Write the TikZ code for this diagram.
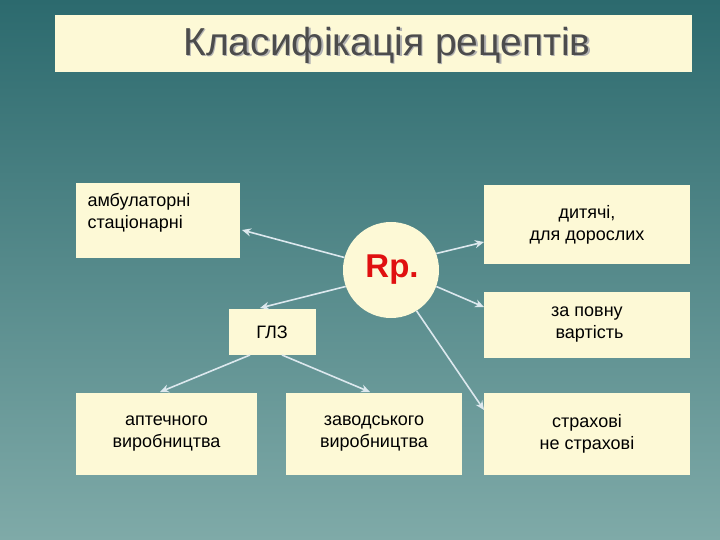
\documentclass[tikz,border=0pt]{standalone}
\usepackage{fontspec}
\setmainfont{Liberation Sans}
\usetikzlibrary{arrows.meta}
\definecolor{boxc}{HTML}{FDF9D6}
\definecolor{bgtop}{HTML}{2C6A6E}
\definecolor{bgbot}{HTML}{7FAAA8}
\definecolor{arr}{HTML}{DCE8EE}
\definecolor{rpred}{HTML}{E01010}
\tikzset{
  box/.style={fill=boxc,draw=none,align=center,font=\fontsize{18}{22}\selectfont,text=black},
  conn/.style={draw=arr,line width=1.6pt,-{Stealth[length=9pt,width=8pt]}}
}
\begin{document}
\begin{tikzpicture}[x=1pt,y=-1pt]
\useasboundingbox (0,0) rectangle (720,540);
\shade[top color=bgtop,bottom color=bgbot] (0,0) rectangle (720,540);
\node[box,minimum width=637,minimum height=57,anchor=north west] (title) at (55,15) {};
\node[text=black!30,font=\fontsize{39}{42}\selectfont] at (388.5,46.5) {Класифікація рецептів};
\node[text=black!70,font=\fontsize{39}{42}\selectfont] (tt) at (387,45) {Класифікація рецептів};
\node[box,minimum width=164,minimum height=75,anchor=north west] (amb) at (76,183) {};
\node[box,anchor=north west,align=left] at (84,190) {амбулаторні\\стаціонарні};
\node[box,minimum width=206,minimum height=79] (dyt) at (587,224.5) {дитячі,\\для дорослих};
\node[box,circle,minimum size=96] (rp) at (391,270) {};
\node[text=rpred,font=\bfseries\fontsize{33}{36}\selectfont] at (392,270) {Rp.};
\node[box,minimum width=87,minimum height=46] (glz) at (272,332) {ГЛЗ};
\node[box,minimum width=206,minimum height=66] (zap) at (587,325) {за повну\\\ вартість};
\node[box,minimum width=181,minimum height=82] (apt) at (166.5,434) {аптечного\\виробництва};
\node[box,minimum width=176,minimum height=82] (zav) at (374,434) {заводського\\виробництва};
\node[box,minimum width=206,minimum height=82] (str) at (587,434) {страхові\\не страхові};
\draw[conn] (rp.165) -- (242,230);
\draw[conn] (rp.20) -- (484,242);
\draw[conn] (rp.200) -- (260,308);
\draw[conn] (rp.-20) -- (484,307);
\draw[conn] (rp.-58) -- (484,410);
\draw[conn] (250,355) -- (160,392);
\draw[conn] (282,355) -- (370,392);
\end{tikzpicture}
\end{document}
